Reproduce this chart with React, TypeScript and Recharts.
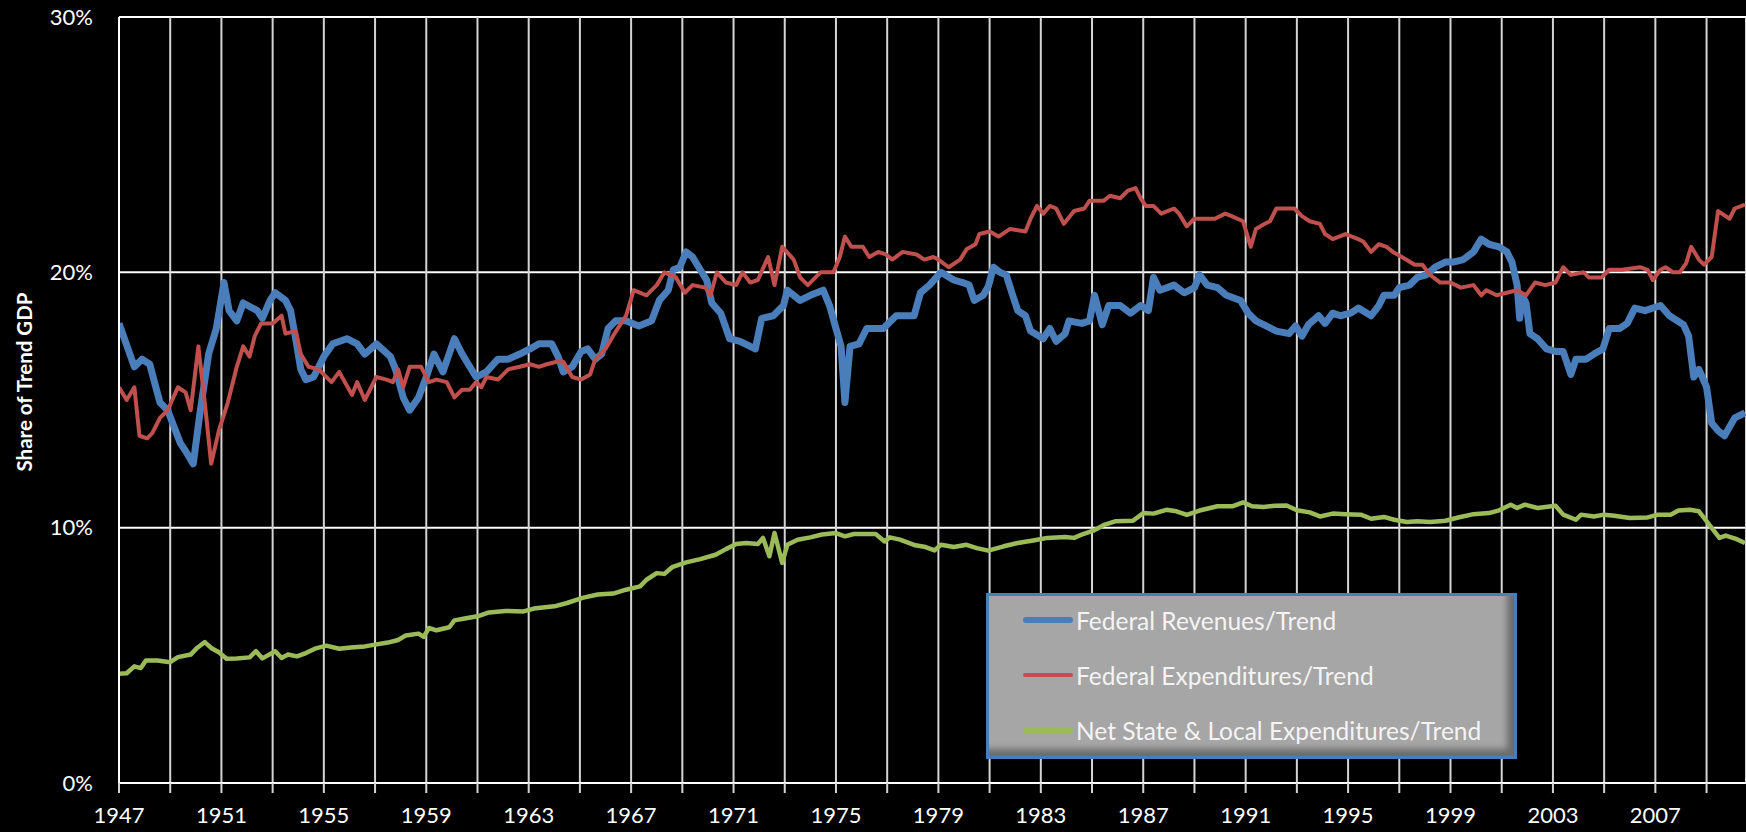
// App.tsx
// Federal revenues, federal expenditures and net state & local expenditures as a
// share of trend GDP, quarterly 1947-2010. Recharts LineChart on a black page.

import * as React from "react";
import { LineChart, Line, XAxis, YAxis, CartesianGrid } from "recharts";

// ---- data (% of trend GDP) ----

const revYears = [
  1947.0, 1947.6, 1947.9, 1948.2, 1948.6, 1948.9, 1949.4, 1949.6, 1949.9, 1950.15,
  1950.5, 1950.8, 1951.1, 1951.3, 1951.6, 1951.85, 1952.4, 1952.6, 1952.9, 1953.1,
  1953.5, 1953.7, 1953.9, 1954.1, 1954.3, 1954.6, 1955.0, 1955.35, 1955.9, 1956.3,
  1956.6, 1957.05, 1957.6, 1957.8, 1958.1, 1958.35, 1958.7, 1959.0, 1959.3, 1959.65,
  1960.1, 1960.4, 1960.7, 1960.95, 1961.35, 1961.8, 1962.2, 1962.65, 1963.05, 1963.4,
  1963.9, 1964.15, 1964.35, 1964.7, 1965.05, 1965.3, 1965.6, 1965.85, 1966.1, 1966.4,
  1966.8, 1967.3, 1967.8, 1968.1, 1968.45, 1968.65, 1968.9, 1969.15, 1969.4, 1969.7,
  1969.95, 1970.15, 1970.5, 1970.85, 1971.25, 1971.65, 1971.85, 1972.1, 1972.55, 1972.95,
  1973.1, 1973.6, 1974.0, 1974.5, 1974.75, 1975.0, 1975.2, 1975.35, 1975.55, 1975.9,
  1976.2, 1976.85, 1977.35, 1978.05, 1978.3, 1978.65, 1979.1, 1979.6, 1979.95, 1980.2,
  1980.4, 1980.75, 1980.95, 1981.15, 1981.4, 1981.65, 1981.9, 1982.1, 1982.4, 1982.6,
  1983.1, 1983.35, 1983.6, 1983.95, 1984.1, 1984.6, 1984.9, 1985.1, 1985.4, 1985.65,
  1986.1, 1986.5, 1986.9, 1987.2, 1987.4, 1987.65, 1988.2, 1988.6, 1989.0, 1989.2,
  1989.5, 1989.9, 1990.25, 1990.8, 1991.1, 1991.4, 1991.8, 1992.2, 1992.7, 1992.95,
  1993.2, 1993.45, 1993.85, 1994.1, 1994.4, 1994.7, 1995.1, 1995.4, 1995.9, 1996.2,
  1996.4, 1996.8, 1997.0, 1997.4, 1997.7, 1998.05, 1998.4, 1998.8, 1999.1, 1999.5,
  1999.9, 2000.2, 2000.5, 2000.9, 2001.2, 2001.4, 2001.6, 2001.7, 2001.8, 2001.95,
  2002.1, 2002.4, 2002.75, 2003.1, 2003.4, 2003.7, 2003.9, 2004.3, 2004.6, 2004.95,
  2005.2, 2005.6, 2005.9, 2006.2, 2006.6, 2007.2, 2007.55, 2008.1, 2008.3, 2008.5,
  2008.7, 2009.0, 2009.2, 2009.45, 2009.7, 2010.1, 2010.5,
];
const revValues = [
  18.0, 16.3, 16.6, 16.4, 14.9, 14.6, 13.3, 13.0, 12.5, 14.4,
  16.8, 17.8, 19.6, 18.5, 18.1, 18.8, 18.5, 18.2, 18.9, 19.2,
  18.9, 18.5, 17.4, 16.2, 15.8, 15.9, 16.7, 17.2, 17.4, 17.2,
  16.8, 17.2, 16.7, 16.2, 15.1, 14.6, 15.1, 15.9, 16.8, 16.1,
  17.4, 16.8, 16.3, 15.9, 16.1, 16.6, 16.6, 16.8, 17.0, 17.2,
  17.2, 16.7, 16.1, 16.3, 16.9, 17.0, 16.6, 16.8, 17.8, 18.1,
  18.1, 17.9, 18.1, 18.9, 19.3, 20.1, 20.2, 20.8, 20.6, 20.1,
  19.7, 18.8, 18.4, 17.4, 17.3, 17.1, 17.0, 18.2, 18.3, 18.7,
  19.3, 18.9, 19.1, 19.3, 18.7, 17.8, 17.1, 14.9, 17.1, 17.2,
  17.8, 17.8, 18.3, 18.3, 19.2, 19.5, 20.0, 19.7, 19.6, 19.5,
  18.9, 19.1, 19.45, 20.2, 20.0, 19.9, 19.1, 18.5, 18.3, 17.7,
  17.4, 17.8, 17.3, 17.6, 18.1, 18.0, 18.1, 19.1, 17.95, 18.7,
  18.7, 18.4, 18.7, 18.5, 19.8, 19.3, 19.5, 19.2, 19.4, 19.9,
  19.5, 19.4, 19.1, 18.9, 18.4, 18.1, 17.9, 17.7, 17.6, 17.9,
  17.5, 17.95, 18.3, 18.0, 18.4, 18.3, 18.4, 18.6, 18.3, 18.7,
  19.1, 19.1, 19.4, 19.5, 19.8, 19.9, 20.2, 20.4, 20.4, 20.5,
  20.8, 21.3, 21.1, 21.0, 20.8, 20.4, 19.5, 18.2, 19.1, 18.8,
  17.6, 17.4, 17.0, 16.9, 16.9, 16.0, 16.6, 16.6, 16.8, 17.0,
  17.8, 17.8, 18.0, 18.6, 18.5, 18.7, 18.3, 17.95, 17.5, 15.9,
  16.2, 15.5, 14.1, 13.8, 13.6, 14.3, 14.5,
];

const expYears = [
  1947.0, 1947.3, 1947.6, 1947.8, 1948.1, 1948.3, 1948.6, 1948.9, 1949.3, 1949.6,
  1949.8, 1950.1, 1950.35, 1950.6, 1950.9, 1951.25, 1951.6, 1951.85, 1952.1, 1952.3,
  1952.55, 1953.0, 1953.35, 1953.5, 1953.9, 1954.1, 1954.4, 1954.8, 1955.3, 1955.6,
  1956.1, 1956.3, 1956.6, 1957.05, 1957.45, 1957.7, 1957.9, 1958.1, 1958.35, 1958.8,
  1959.1, 1959.4, 1959.8, 1960.1, 1960.4, 1960.7, 1960.95, 1961.15, 1961.35, 1961.8,
  1962.2, 1962.65, 1963.05, 1963.4, 1963.7, 1964.1, 1964.35, 1964.7, 1965.05, 1965.4,
  1965.6, 1966.0, 1966.35, 1966.8, 1967.1, 1967.6, 1968.0, 1968.3, 1968.75, 1969.1,
  1969.4, 1969.9, 1970.1, 1970.35, 1970.7, 1971.1, 1971.35, 1971.65, 1971.95, 1972.35,
  1972.6, 1972.9, 1973.35, 1973.6, 1973.9, 1974.4, 1974.9, 1975.15, 1975.35, 1975.6,
  1976.05, 1976.3, 1976.65, 1976.95, 1977.2, 1977.6, 1978.15, 1978.45, 1978.8, 1979.0,
  1979.4, 1979.85, 1980.1, 1980.45, 1980.6, 1981.0, 1981.35, 1981.8, 1982.4, 1982.6,
  1982.85, 1983.1, 1983.35, 1983.6, 1983.9, 1984.3, 1984.7, 1984.9, 1985.45, 1985.7,
  1986.1, 1986.4, 1986.7, 1986.9, 1987.1, 1987.4, 1987.7, 1988.2, 1988.4, 1988.7,
  1989.0, 1989.5, 1989.8, 1990.2, 1990.45, 1990.9, 1991.2, 1991.4, 1991.75, 1991.95,
  1992.2, 1992.9, 1993.2, 1993.5, 1993.9, 1994.1, 1994.4, 1994.9, 1995.4, 1995.6,
  1995.9, 1996.2, 1996.5, 1996.75, 1997.1, 1997.6, 1997.9, 1998.2, 1998.6, 1999.0,
  1999.4, 1999.9, 2000.2, 2000.4, 2000.8, 2001.2, 2001.6, 2001.95, 2002.3, 2002.7,
  2003.1, 2003.4, 2003.7, 2004.2, 2004.4, 2004.9, 2005.2, 2005.7, 2006.4, 2006.7,
  2006.9, 2007.2, 2007.4, 2007.7, 2007.95, 2008.2, 2008.4, 2008.7, 2008.9, 2009.2,
  2009.45, 2009.9, 2010.1, 2010.5,
];
const expValues = [
  15.5, 15.0, 15.5, 13.6, 13.5, 13.7, 14.3, 14.6, 15.5, 15.3,
  14.6, 17.1, 14.9, 12.5, 13.8, 14.9, 16.3, 17.1, 16.7, 17.5,
  18.0, 18.0, 18.3, 17.6, 17.7, 16.8, 16.3, 16.2, 15.7, 16.1,
  15.2, 15.7, 15.0, 15.9, 15.8, 15.7, 16.2, 15.5, 16.3, 16.3,
  15.7, 15.8, 15.7, 15.1, 15.4, 15.4, 15.7, 15.5, 15.9, 15.8,
  16.2, 16.3, 16.4, 16.3, 16.4, 16.5, 16.5, 15.9, 15.8, 16.0,
  16.6, 17.0, 17.6, 18.3, 19.3, 19.1, 19.5, 20.0, 19.8, 19.2,
  19.5, 19.4, 19.1, 20.0, 19.6, 19.5, 20.0, 19.6, 19.7, 20.6,
  19.5, 21.0, 20.5, 19.8, 19.5, 20.0, 20.0, 20.6, 21.4, 21.0,
  21.0, 20.6, 20.8, 20.7, 20.5, 20.8, 20.7, 20.5, 20.6, 20.5,
  20.2, 20.5, 20.9, 21.1, 21.5, 21.6, 21.4, 21.7, 21.6, 22.1,
  22.6, 22.3, 22.6, 22.5, 21.9, 22.4, 22.5, 22.8, 22.8, 23.0,
  22.9, 23.2, 23.3, 22.9, 22.6, 22.6, 22.3, 22.5, 22.3, 21.8,
  22.1, 22.1, 22.1, 22.3, 22.2, 22.0, 21.0, 21.7, 21.9, 22.0,
  22.5, 22.5, 22.2, 22.0, 21.9, 21.5, 21.3, 21.5, 21.3, 21.2,
  20.8, 21.1, 21.0, 20.8, 20.6, 20.3, 20.3, 19.9, 19.6, 19.6,
  19.4, 19.5, 19.1, 19.3, 19.1, 19.2, 19.3, 19.1, 19.6, 19.5,
  19.6, 20.2, 19.9, 20.0, 19.8, 19.8, 20.1, 20.1, 20.2, 20.1,
  19.7, 20.1, 20.2, 20.0, 20.0, 20.35, 21.0, 20.5, 20.3, 20.6,
  22.4, 22.1, 22.5, 22.65,
];

const slYears = [
  1947.0, 1947.3, 1947.6, 1947.85, 1948.05, 1948.5, 1949.0, 1949.3, 1949.8, 1950.05,
  1950.35, 1950.6, 1950.9, 1951.2, 1951.6, 1952.1, 1952.35, 1952.6, 1953.1, 1953.35,
  1953.6, 1953.95, 1954.3, 1954.65, 1955.1, 1955.6, 1956.05, 1956.6, 1957.0, 1957.5,
  1957.9, 1958.2, 1958.7, 1958.9, 1959.1, 1959.4, 1959.9, 1960.1, 1960.5, 1961.0,
  1961.45, 1962.1, 1962.8, 1963.2, 1964.0, 1964.5, 1965.1, 1965.7, 1966.3, 1966.8,
  1967.35, 1967.6, 1968.0, 1968.3, 1968.6, 1969.15, 1969.7, 1970.3, 1970.7, 1971.1,
  1971.5, 1971.95, 1972.15, 1972.4, 1972.6, 1972.9, 1973.1, 1973.5, 1974.0, 1974.45,
  1975.0, 1975.35, 1975.7, 1976.55, 1976.9, 1977.1, 1977.5, 1978.1, 1978.5, 1978.85,
  1979.1, 1979.6, 1980.1, 1980.5, 1980.95, 1981.55, 1982.1, 1982.7, 1983.25, 1983.95,
  1984.3, 1984.65, 1985.05, 1985.5, 1985.9, 1986.6, 1987.0, 1987.4, 1987.9, 1988.3,
  1988.7, 1989.2, 1989.9, 1990.5, 1990.9, 1991.25, 1991.7, 1992.15, 1992.6, 1993.0,
  1993.5, 1993.9, 1994.4, 1994.9, 1995.5, 1995.9, 1996.4, 1996.8, 1997.3, 1997.7,
  1998.2, 1998.8, 1999.3, 1999.9, 2000.5, 2000.9, 2001.35, 2001.6, 2001.9, 2002.4,
  2003.1, 2003.4, 2003.9, 2004.1, 2004.6, 2005.0, 2005.4, 2006.0, 2006.7, 2007.1,
  2007.6, 2007.9, 2008.35, 2008.7, 2008.9, 2009.2, 2009.5, 2009.75, 2010.15, 2010.5,
];
const slValues = [
  4.28, 4.3, 4.57, 4.5, 4.8, 4.8, 4.73, 4.93, 5.03, 5.29,
  5.52, 5.29, 5.12, 4.87, 4.88, 4.92, 5.16, 4.88, 5.16, 4.9,
  5.03, 4.96, 5.09, 5.26, 5.38, 5.26, 5.31, 5.35, 5.42, 5.5,
  5.6, 5.78, 5.85, 5.72, 6.07, 5.98, 6.1, 6.37, 6.44, 6.53,
  6.68, 6.74, 6.72, 6.83, 6.92, 7.05, 7.25, 7.38, 7.42, 7.57,
  7.7, 7.96, 8.22, 8.19, 8.45, 8.64, 8.77, 8.94, 9.16, 9.36,
  9.4, 9.36, 9.6, 8.88, 9.79, 8.62, 9.33, 9.53, 9.62, 9.73,
  9.79, 9.66, 9.75, 9.75, 9.46, 9.62, 9.53, 9.31, 9.24, 9.11,
  9.33, 9.24, 9.33, 9.2, 9.1, 9.27, 9.4, 9.5, 9.6, 9.63,
  9.6, 9.75, 9.88, 10.12, 10.25, 10.27, 10.57, 10.55, 10.7, 10.64,
  10.5, 10.67, 10.84, 10.84, 10.99, 10.84, 10.81, 10.86, 10.87, 10.68,
  10.6, 10.44, 10.55, 10.53, 10.51, 10.35, 10.42, 10.31, 10.22, 10.25,
  10.22, 10.27, 10.4, 10.53, 10.57, 10.68, 10.9, 10.77, 10.9, 10.77,
  10.86, 10.51, 10.31, 10.51, 10.44, 10.51, 10.47, 10.38, 10.4, 10.51,
  10.51, 10.67, 10.7, 10.64, 10.38, 9.99, 9.6, 9.69, 9.56, 9.4,
];

const seriesNames = [
  "Federal Revenues/Trend",
  "Federal Expenditures/Trend",
  "Net State & Local Expenditures/Trend",
];
const seriesColors = ["#4a7ebb", "#c0504d", "#9bbb59"];
const seriesWidths = [7, 4, 4.5];
const swatchHeights = [6, 4, 5];

const xTicks = [
  1947, 1949, 1951, 1953, 1955, 1957, 1959, 1961, 1963, 1965, 1967, 1969, 1971,
  1973, 1975, 1977, 1979, 1981, 1983, 1985, 1987, 1989, 1991, 1993, 1995, 1997,
  1999, 2001, 2003, 2005, 2007, 2009,
];
const yTicks = [0, 10, 20, 30];

const toPoints = (years: number[], values: number[]) =>
  years.map((year, i) => ({ year, value: values[i] }));

const seriesData = [
  toPoints(revYears, revValues),
  toPoints(expYears, expValues),
  toPoints(slYears, slValues),
];

const FONT = "Lato, 'Liberation Sans', sans-serif";

// Excel-style legend box, drawn as plain HTML over the plot so it does not
// eat into the chart's layout.
const LegendBox: React.FC = () => (
  <div
    style={{
      position: "absolute",
      left: 986,
      top: 593,
      width: 531,
      height: 166,
      boxSizing: "border-box",
      background: "#a6a6a6",
      border: "3px solid #4a7ebb",
      boxShadow: "inset -7px -7px 6px rgba(0,0,0,0.35)",
      fontFamily: FONT,
    }}
  >
    {seriesNames.map((name, i) => (
      <div
        key={name}
        style={{
          position: "absolute",
          left: 34,
          top: 24 + i * 55 - 16,
          height: 32,
          display: "flex",
          alignItems: "center",
        }}
      >
        <div
          style={{
            width: 50,
            height: swatchHeights[i],
            borderRadius: 3,
            background: seriesColors[i],
            marginRight: 3,
          }}
        />
        <span style={{ color: "#f4f4f4", fontSize: 24.5, whiteSpace: "nowrap" }}>
          {name}
        </span>
      </div>
    ))}
  </div>
);

const YTitle = () => (
  <text
    x={24}
    y={382}
    transform="rotate(-90, 24, 382)"
    textAnchor="middle"
    dominantBaseline="central"
    fill="#ffffff"
    fontSize={20.5}
    fontWeight={700}
    fontFamily={FONT}
  >
    Share of Trend GDP
  </text>
);

export default function App() {
  return (
    <div style={{ width: 1746, height: 832, background: "#000", position: "relative" }}>
      <style>{"body{margin:0;background:#000;}"}</style>
      <LineChart
        width={1746}
        height={832}
        margin={{ top: 17, right: 0, bottom: 0, left: 0 }}
        style={{ fontFamily: FONT }}
      >
        <CartesianGrid vertical={false} stroke="#ffffff" strokeWidth={2} />
        <CartesianGrid horizontal={false} stroke="#d4d4d4" strokeWidth={2} />
        <XAxis
          dataKey="year"
          type="number"
          domain={[1947, 2010.54]}
          allowDataOverflow
          ticks={xTicks}
          interval={0}
          tickFormatter={(v: number) => ((v - 1947) % 4 === 0 ? String(v) : "")}
          height={49}
          tickSize={10}
          tickMargin={14}
          axisLine={{ stroke: "#ffffff", strokeWidth: 2 }}
          tickLine={{ stroke: "#d4d4d4", strokeWidth: 2 }}
          tick={{ fill: "#ffffff", fontSize: 22 }}
        />
        <YAxis
          type="number"
          domain={[0, 30]}
          ticks={yTicks}
          width={119}
          tickSize={0}
          tickMargin={26}
          tickLine={false}
          axisLine={{ stroke: "#ffffff", strokeWidth: 2 }}
          tickFormatter={(v: number) => `${v}%`}
          tick={{ fill: "#ffffff", fontSize: 22 }}
          label={{ content: YTitle }}
        />
        {seriesNames.map((name, i) => (
          <Line
            key={name}
            data={seriesData[i]}
            dataKey="value"
            name={name}
            type="linear"
            stroke={seriesColors[i]}
            strokeWidth={seriesWidths[i]}
            strokeLinejoin="round"
            dot={false}
            activeDot={false}
            isAnimationActive={false}
          />
        ))}
      </LineChart>
      <LegendBox />
    </div>
  );
}
